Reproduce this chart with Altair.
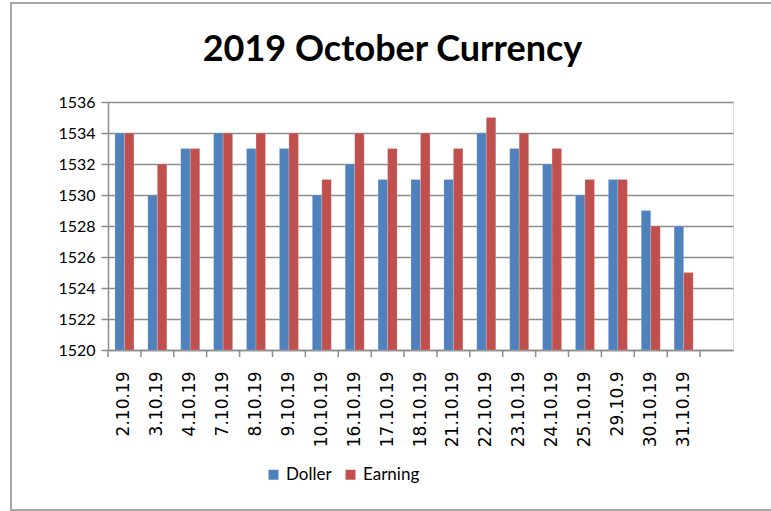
import altair as alt
import pandas as pd

dates = ["2.10.19", "3.10.19", "4.10.19", "7.10.19", "8.10.19", "9.10.19",
         "10.10.19", "16.10.19", "17.10.19", "18.10.19", "21.10.19", "22.10.19",
         "23.10.19", "24.10.19", "25.10.19", "29.10.9", "30.10.19", "31.10.19"]
doller = [1534, 1530, 1533, 1534, 1533, 1533, 1530, 1532, 1531, 1531, 1531, 1534,
          1533, 1532, 1530, 1531, 1529, 1528]
earning = [1534, 1532, 1533, 1534, 1534, 1534, 1531, 1534, 1533, 1534, 1533, 1535,
           1534, 1533, 1531, 1531, 1528, 1525]
series = ["Doller", "Earning"]
colors = ["#4F81BD", "#C0504D"]
y_ticks = list(range(1520, 1537, 2))

# Excel leaves one empty category slot at the end
domain = dates + [" "]

rows = []
for d, a, b in zip(dates, doller, earning):
    rows.append({"Date": d, "Series": "Doller", "Value": a})
    rows.append({"Date": d, "Series": "Earning", "Value": b})
df = pd.DataFrame(rows)

W, H = 625, 248
GRID = "#8c8c8c"
SANS = "Lato"

xscale = alt.Scale(domain=domain, paddingInner=0, paddingOuter=0)
yscale = alt.Scale(domain=[1520, 1536], zero=False, nice=False)

bars = alt.Chart(df).mark_bar(stroke="white", strokeOpacity=0.35, strokeWidth=0.5).encode(
    x=alt.X("Date:N", scale=xscale, sort=domain, title=None,
            axis=alt.Axis(labelAngle=-90, labelFont="DejaVu Sans", labelFontSize=17,
                          labelColor="#000000", labelPadding=21, ticks=False,
                          domainColor=GRID, domainWidth=1.5, labelOverlap=False)),
    xOffset=alt.XOffset("Series:N", scale=alt.Scale(domain=series, paddingInner=0, paddingOuter=0.73)),
    y=alt.Y("Value:Q", scale=yscale, title=None,
            axis=alt.Axis(values=y_ticks, format="d", grid=True, gridColor=GRID, gridWidth=1.5,
                          tickColor=GRID, tickSize=7, tickWidth=1.5,
                          domainColor=GRID, domainWidth=1.5,
                          labelFont=SANS, labelFontSize=16, labelColor="#000000",
                          labelPadding=6)),
    y2=alt.datum(1520),
    color=alt.Color("Series:N", scale=alt.Scale(domain=series, range=colors), title=None,
                    legend=alt.Legend(orient="none", direction="horizontal",
                                      legendX=157, legendY=364,
                                      symbolType="square", symbolSize=100,
                                      symbolStrokeWidth=0, labelFont=SANS,
                                      labelFontSize=17, labelColor="#000000",
                                      labelOffset=4, columnPadding=10)),
)

tick_df = pd.DataFrame({"Date": domain})
ticks = alt.Chart(tick_df).mark_rule(color=GRID, strokeWidth=1.5).encode(
    x=alt.X("Date:N", scale=xscale, sort=domain, bandPosition=0),
    y=alt.value(H), y2=alt.value(H + 7),
)

frame = alt.Chart(pd.DataFrame({"k": [0]})).mark_rect(
    fill=None, stroke="#a6a6a6", strokeWidth=2, clip=False
).encode(
    x=alt.value(-97), x2=alt.value(700), y=alt.value(-99), y2=alt.value(408)
)

chart = alt.layer(frame, bars, ticks).properties(
    width=W, height=H,
    title=alt.TitleParams("2019 October Currency", font=SANS, fontSize=36,
                          fontWeight="bold", color="#000000", anchor="middle",
                          dx=-28, offset=-67),
    autosize=alt.AutoSizeParams(type="none"),
    padding={"left": 108, "top": 102, "right": 38, "bottom": 161},
).configure_view(stroke=None).configure(background="white")

chart.save("out.html", embed_options={"renderer": "svg", "actions": False})
